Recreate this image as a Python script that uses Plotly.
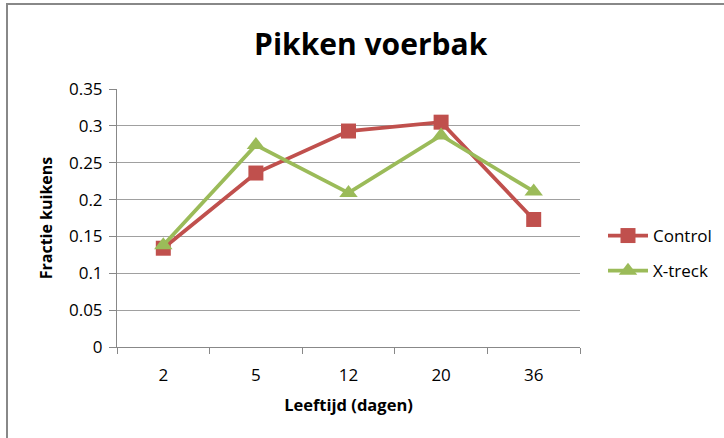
import plotly.graph_objects as go

days = ["2", "5", "12", "20", "36"]
control = [0.134, 0.236, 0.293, 0.305, 0.173]
xtreck = [0.138, 0.274, 0.209, 0.287, 0.211]
y_ticks = [0, 0.05, 0.1, 0.15, 0.2, 0.25, 0.3, 0.35]
y_labels = ["0", "0.05", "0.1", "0.15", "0.2", "0.25", "0.3", "0.35"]

FONT = "Open Sans"

fig = go.Figure()
fig.add_trace(go.Scatter(
    x=days, y=control, name="Control", mode="lines+markers",
    line=dict(color="#C0504D", width=3.8),
    marker=dict(symbol="square", size=15, color="#C0504D"),
    legendgroup="a",
))
fig.add_trace(go.Scatter(
    x=days, y=xtreck, name="X-treck", mode="lines+markers",
    line=dict(color="#9BBB59", width=3.8),
    marker=dict(symbol="triangle-up", size=16, color="#9BBB59"),
    legendgroup="b",
))

L, R, T, B = 117, 144, 89, 91
W, H = 724, 438
pw, ph = W - L - R, H - T - B

def px(x):
    return (x - L) / pw

def py(y):
    return (H - B - y) / ph

fig.update_layout(
    width=W, height=H,
    margin=dict(l=L, r=R, t=T, b=B, autoexpand=False),
    paper_bgcolor="white", plot_bgcolor="white",
    font=dict(family=FONT, size=17, color="#000000"),
    title=dict(text="<b>Pikken voerbak</b>", x=0.512, xanchor="center",
               y=1 - 44 / H, yanchor="middle",
               font=dict(family=FONT, size=30, color="#000000")),
    showlegend=True,
    legend=dict(x=px(603), y=py(218), xanchor="left", yanchor="top",
                font=dict(family=FONT, size=17), tracegroupgap=10,
                itemwidth=40,
                traceorder="grouped", bgcolor="rgba(0,0,0,0)"),
    shapes=[
        dict(type="line", xref="paper", yref="paper",
             x0=px(7), x1=px(7), y0=py(3), y1=py(450),
             line=dict(color="#888888", width=2)),
        dict(type="line", xref="paper", yref="paper",
             x0=px(6), x1=px(740), y0=py(4), y1=py(4),
             line=dict(color="#888888", width=2)),
    ],
)
fig.update_xaxes(
    type="category", range=[-0.5, 4.5], tickson="boundaries",
    ticks="outside", ticklen=6, ticklabelstandoff=13,
    tickcolor="#888888", showline=True, linecolor="#888888", linewidth=1,
    showgrid=False, tickfont=dict(size=17),
    title=dict(text="<b>Leeftijd (dagen)</b>", font=dict(size=16.5), standoff=14),
)
fig.update_yaxes(
    range=[0, 0.35], tickvals=y_ticks, ticktext=y_labels, ticks="outside",
    ticklen=7, ticklabelstandoff=3, tickcolor="#888888", showline=True,
    linecolor="#888888",
    linewidth=1, showgrid=True, gridcolor="#A0A0A0", gridwidth=1,
    zeroline=False, tickfont=dict(size=17),
    title=dict(text="<b>Fractie kuikens</b>", font=dict(size=16), standoff=12),
)

fig.write_html("out.html", config={"displayModeBar": False},
               post_script="document.body.style.margin='0';document.body.style.padding='0';")
